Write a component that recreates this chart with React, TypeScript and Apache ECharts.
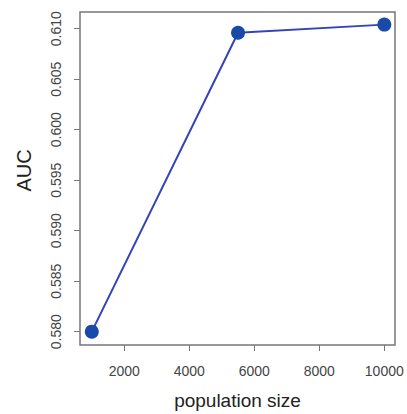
import React, { useEffect, useRef } from "react";
import * as echarts from "echarts";

const populationSize = [1000, 5500, 10000];
const auc = [0.58, 0.6096, 0.6104];
const xTicks = [2000, 4000, 6000, 8000, 10000];
const yTicks = [0.58, 0.585, 0.59, 0.595, 0.6, 0.605, 0.61];

export default function App() {
  const ref = useRef<HTMLDivElement>(null);
  useEffect(() => {
    if (!ref.current) return;
    const chart = echarts.init(ref.current, null, { renderer: "svg" });
    const font = "Liberation Sans, Arial, sans-serif";
    chart.setOption({
      animation: false,
      backgroundColor: "#ffffff",
      grid: {
        left: 80,
        top: 12,
        right: 12,
        bottom: 69,
        show: true,
        borderColor: "#777777",
        borderWidth: 1.5,
        backgroundColor: "transparent",
        outerBoundsMode: "none",
        containLabel: false,
      },
      xAxis: {
        type: "value",
        min: 637,
        max: 10329,
        name: "population size",
        nameLocation: "middle",
        nameGap: 46,
        nameTextStyle: { fontFamily: font, fontSize: 19, color: "#222" },
        axisLine: { show: false },
        axisTick: {
          show: true,
          length: 6,
          lineStyle: { color: "#777" },
          customValues: xTicks,
        },
        axisLabel: {
          fontFamily: font,
          fontSize: 14,
          color: "#444",
          margin: 19,
          customValues: xTicks,
          formatter: (v: number) => String(v),
        },
        splitLine: { show: false },
      },
      yAxis: {
        type: "value",
        min: 0.57868,
        max: 0.61165,
        name: "AUC",
        nameLocation: "middle",
        nameGap: 46,
        nameTextStyle: {
          fontFamily: font,
          fontSize: 20,
          color: "#222",
          padding: [0, 0, 0, 16],
        },
        axisLine: { show: false },
        axisTick: {
          show: true,
          length: 6,
          lineStyle: { color: "#777" },
          customValues: yTicks,
        },
        axisLabel: {
          fontFamily: font,
          fontSize: 14,
          color: "#444",
          rotate: 90,
          margin: 17,
          customValues: yTicks,
          formatter: (v: number) => v.toFixed(3),
        },
        splitLine: { show: false },
      },
      series: [
        {
          type: "line",
          data: populationSize.map((x, i) => [x, auc[i]]),
          symbol: "circle",
          symbolSize: 14,
          lineStyle: { color: "#3344b8", width: 2 },
          itemStyle: { color: "#1a4aa8" },
        },
      ],
    });
    return () => chart.dispose();
  }, []);
  return (
    <div
      ref={ref}
      style={{ position: "fixed", left: 0, top: 0, width: 407, height: 414 }}
    />
  );
}
